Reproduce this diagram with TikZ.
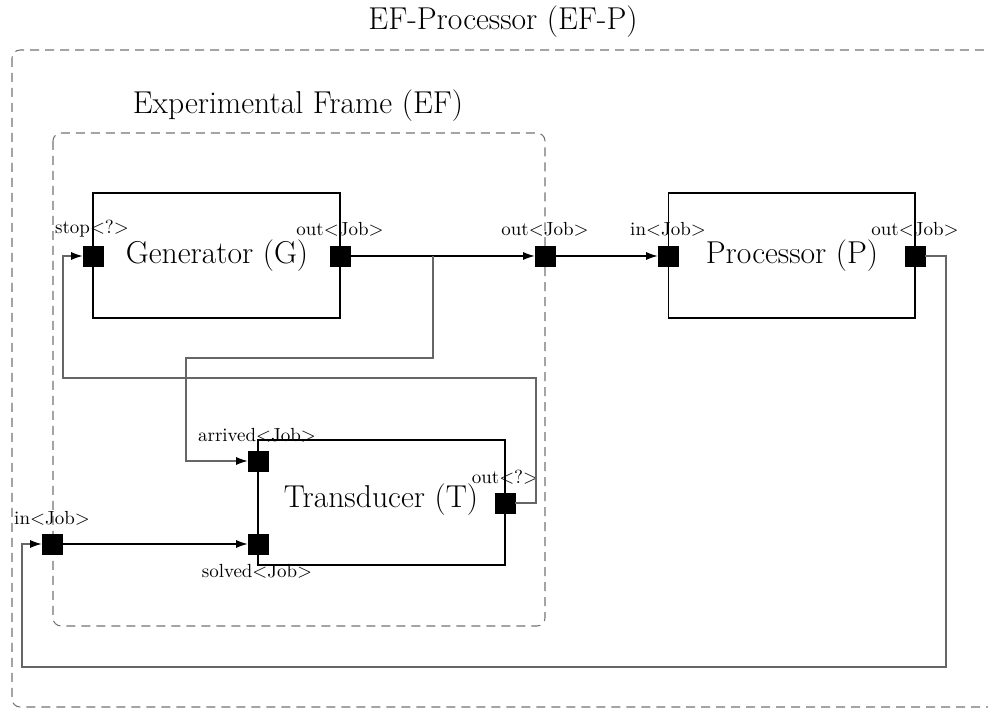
\documentclass[tikz,border=0pt]{standalone}
\usetikzlibrary{arrows.meta}
\begin{document}
\begin{tikzpicture}[x=0.02cm,y=-0.02cm,
  bigtext/.style={font=\fontsize{18}{21}\selectfont, inner sep=0pt},
  portlabel/.style={font=\fontsize{10.8}{12}\selectfont, inner sep=0pt},
  frame/.style={draw=black!55, line width=0.6pt, dash pattern=on 1.8mm off 1.2mm, rounded corners=1.6mm},
  blockbox/.style={draw=black, line width=0.6pt, minimum width=4.94cm, minimum height=2.5cm, inner sep=0pt},
  portbox/.style={draw=black, fill=black, minimum size=0.4cm, inner sep=0pt},
  conn/.style={draw=black, line width=0.6pt},
  fb/.style={draw=black!60, line width=0.6pt},
  arr/.style={-{Latex[length=2.3mm,width=1.6mm,color=black]}}
]
\useasboundingbox (0,0) rectangle (988,709);
\clip (0,0) rectangle (988,709);

% frames
\draw[frame] (12,50) rectangle (1005,707);
\node[bigtext] (eftitle) at (503,22) {EF-Processor (EF-P)};
\draw[frame] (53,133) rectangle (545,626);
\node[bigtext] (ef) at (298,106) {Experimental Frame (EF)};

% blocks
\node[blockbox] (gen) at (216.5,255.5) {};
\node[bigtext] (gentxt) at (217,256) {Generator (G)};
\node[blockbox] (proc) at (791.5,255.5) {};
\node[bigtext] (proctxt) at (792,256) {Processor (P)};
\node[blockbox] (trans) at (381.5,502.5) {};
\node[bigtext] (transtxt) at (381,500) {Transducer (T)};

% ports
\node[portbox] (stop) at (93,256) {};
\node[portbox] (gout) at (340,256) {};
\node[portbox] (efout) at (545,256) {};
\node[portbox] (pin) at (668,256) {};
\node[portbox] (pout) at (915,256) {};
\node[portbox] (arrived) at (258,461) {};
\node[portbox] (solved) at (258,544) {};
\node[portbox] (tout) at (505,503) {};
\node[portbox] (efin) at (52,544) {};

% port labels
\node[portlabel] (stoplbl) at (92,229) {stop$<$?$>$};
\node[portlabel] (goutlbl) at (340,229) {out$<$Job$>$};
\node[portlabel] (efoutlbl) at (545,229) {out$<$Job$>$};
\node[portlabel] (pinlbl) at (668,229) {in$<$Job$>$};
\node[portlabel] (poutlbl) at (915,229) {out$<$Job$>$};
\node[portlabel] (arrlbl) at (257,435) {arrived$<$Job$>$};
\node[portlabel] (sollbl) at (257,571) {solved$<$Job$>$};
\node[portlabel] (toutlbl) at (505,477) {out$<$?$>$};
\node[portlabel] (efinlbl) at (52,518) {in$<$Job$>$};

% connectors
\coordinate (br) at (433,256);
\draw[conn,arr] (gout) -- (efout);
\draw[conn,arr] (efout) -- (pin);
\draw[fb,arr] (br) -- (433,358) -| (186,461) -- (arrived);
\draw[conn,arr] (efin) -- (solved);
\draw[fb,arr] (tout) -| (536,378) -| (63,256) -- (stop);
\draw[fb,arr] (pout) -| (946,667) -| (22,544) -- (efin);
\end{tikzpicture}
\end{document}
